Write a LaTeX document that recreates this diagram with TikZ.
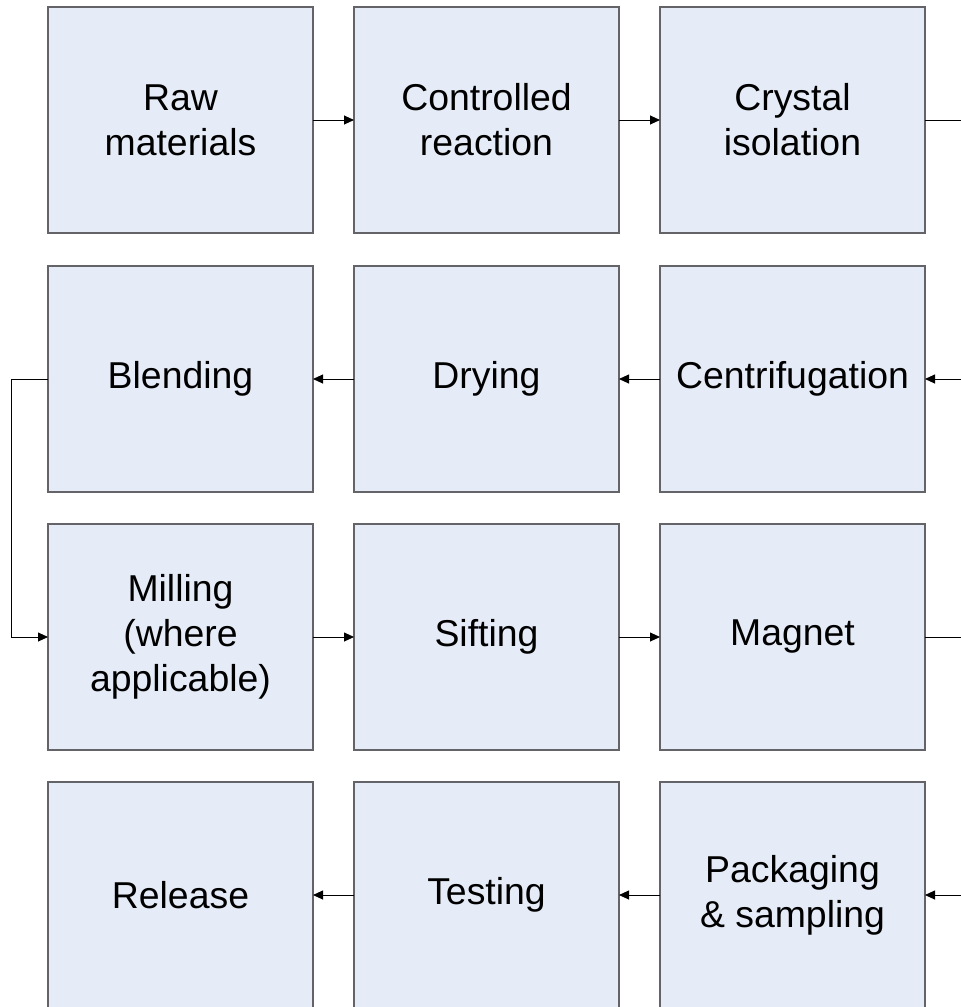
\documentclass[tikz,border=0pt]{standalone}
\usepackage{fontspec}
\setmainfont{Liberation Sans}
\usetikzlibrary{arrows.meta}
\definecolor{boxfill}{RGB}{230,236,247}
\definecolor{boxline}{RGB}{100,100,104}
\begin{document}
\begin{tikzpicture}[x=1pt,y=-1pt,
  stepbox/.style={draw=boxline,fill=boxfill,line width=1.3pt,minimum width=265pt,minimum height=226pt,inner sep=0pt,outer sep=0pt,align=center,font=\fontsize{37.4}{45}\selectfont},
  flow/.style={draw=black,line width=0.9pt,-{Triangle[length=10pt,width=9pt]}}]
\useasboundingbox (0,0) rectangle (961,1007);
% row 1
\node[stepbox] (raw)  at (180.5,120) {Raw\\materials};
\node[stepbox] (ctrl) at (486.5,120) {Controlled\\reaction};
\node[stepbox] (crys) at (792.5,120) {Crystal\\isolation};
% row 2
\node[stepbox] (blend) at (180.5,379) {Blending};
\node[stepbox] (dry)   at (486.5,379) {Drying};
\node[stepbox] (cent)  at (792.5,379) {Centrifugation};
% row 3
\node[stepbox] (mill) at (180.5,637) {Milling\\(where\\applicable)};
\node[stepbox] (sift) at (486.5,637) {Sifting};
\node[stepbox] (mag)  at (792.5,637) {Magnet};
% row 4
\node[stepbox] (rel)  at (180.5,895) {Release};
\node[stepbox] (test) at (486.5,895) {Testing};
\node[stepbox] (pack) at (792.5,895) {Packaging\\\& sampling};
% turn coordinates
\coordinate (rt1) at (985,120);
\coordinate (rt2) at (985,379);
\coordinate (lt1) at (11,379);
\coordinate (lt2) at (11,637);
\coordinate (rt3) at (985,637);
\coordinate (rt4) at (985,895);
% connectors
\draw[flow] (raw) -- (ctrl);
\draw[flow] (ctrl) -- (crys);
\draw[flow] (crys.east) -- (rt1) -- (rt2) -- (cent.east);
\draw[flow] (cent) -- (dry);
\draw[flow] (dry) -- (blend);
\draw[flow] (blend.west) -- (lt1) -- (lt2) -- (mill.west);
\draw[flow] (mill) -- (sift);
\draw[flow] (sift) -- (mag);
\draw[flow] (mag.east) -- (rt3) -- (rt4) -- (pack.east);
\draw[flow] (pack) -- (test);
\draw[flow] (test) -- (rel);
\end{tikzpicture}
\end{document}
